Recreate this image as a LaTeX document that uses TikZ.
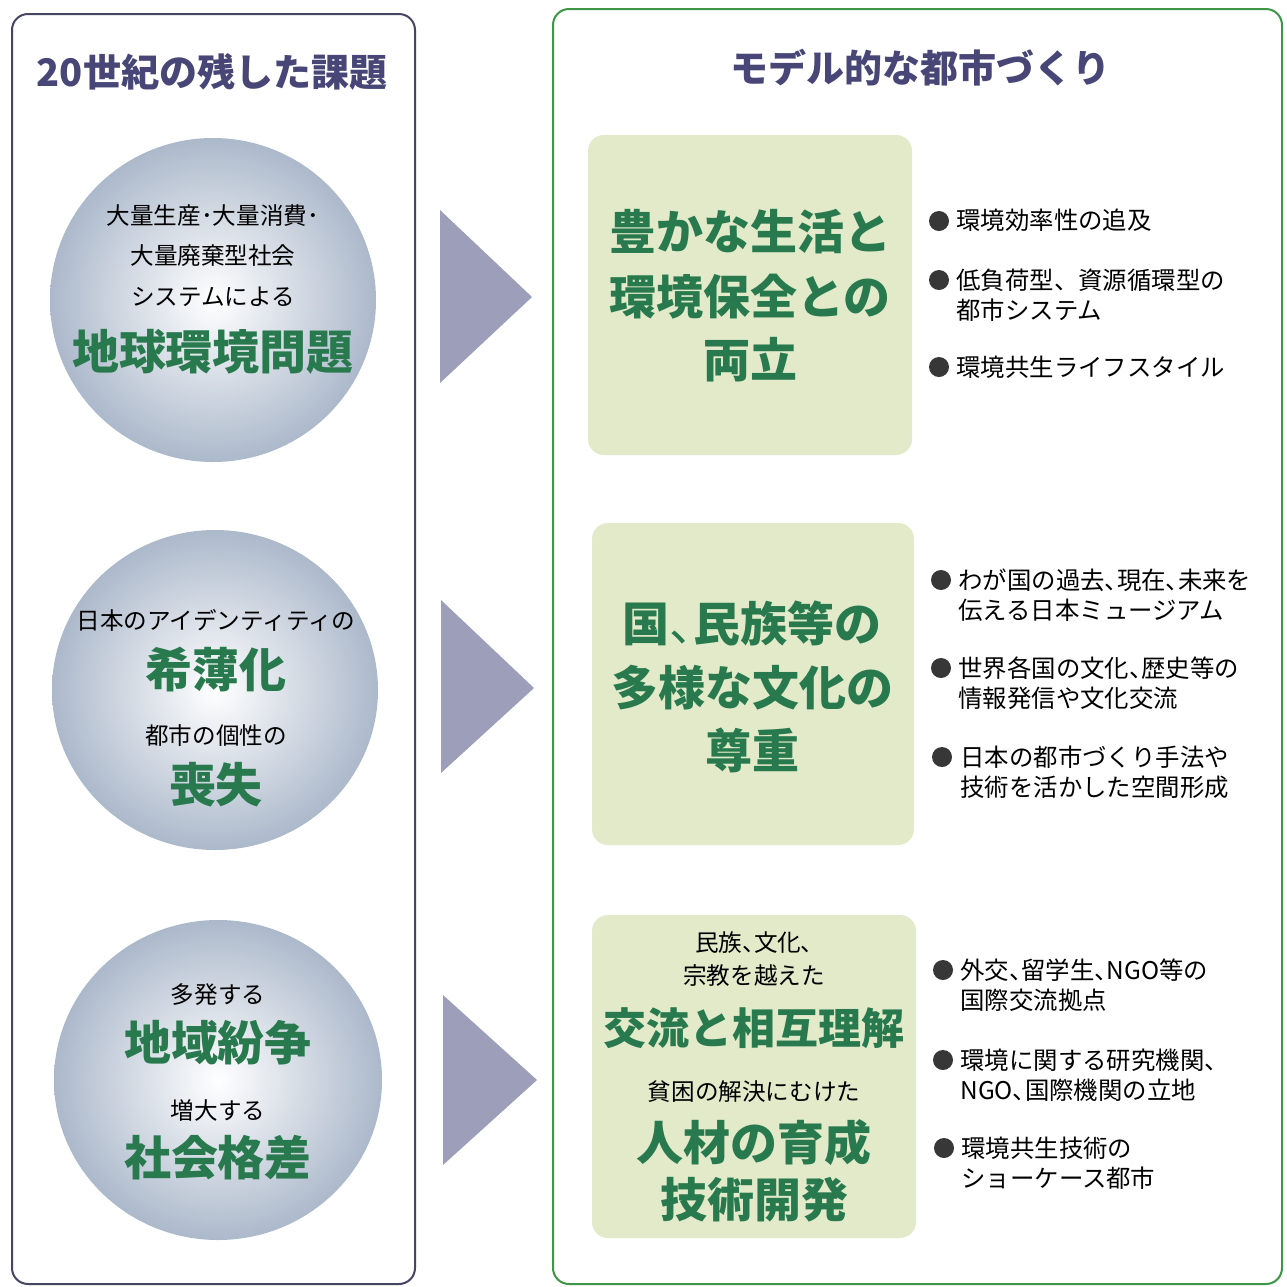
\documentclass[tikz,border=0pt]{standalone}
\usepackage{fontspec}
\setmainfont{Noto Sans CJK JP}
\IfFontExistsTF{Noto Sans CJK JP Black}
  {\newfontfamily\heavy{Noto Sans CJK JP Black}}
  {\newfontfamily\heavy{Noto Sans CJK JP}[UprightFont=*, BoldFont=*]\let\oldheavy\heavy\def\heavy{\oldheavy\bfseries}}
\newfontfamily\jpalt{Noto Sans CJK JP}[RawFeature=+palt]
\definecolor{titlec}{RGB}{72,70,118}
\definecolor{greenc}{RGB}{40,122,78}
\definecolor{leftb}{RGB}{70,70,100}
\definecolor{rightb}{RGB}{62,150,70}
\definecolor{boxf}{RGB}{226,234,202}
\definecolor{arrf}{RGB}{156,158,186}
\definecolor{ballo}{RGB}{172,185,203}
\definecolor{bulc}{RGB}{55,55,55}
\begin{document}
\begin{tikzpicture}[x=0.5pt,y=-0.5pt,
  ttl/.style={font=\fontsize{19}{19}\selectfont\bfseries, text=titlec, inner sep=0pt},
  sm/.style={font=\fontsize{11.8}{12}\selectfont, text=black, inner sep=0pt},
  big/.style={font=\fontsize{23.5}{24}\selectfont\heavy, text=greenc, inner sep=0pt},
  bul/.style={font=\fontsize{12.2}{12}\selectfont, text=black, anchor=west, inner sep=0pt},
  dot/.style={circle, fill=bulc, minimum size=10pt, inner sep=0pt},
  panel/.style={rounded corners=8pt, line width=1pt},
  gbox/.style={fill=boxf, rounded corners=8pt},
  tri/.style={fill=arrf},
  ball/.style={inner color=white, outer color=ballo}
]
\useasboundingbox (0,0) rectangle (1287,1287);
\fill[white] (0,0) rectangle (1287,1287);

% panels
\draw[panel, draw=leftb] (12,14) rectangle (415,1284);
\draw[panel, draw=rightb] (553,9) rectangle (1282,1284);

\node[ttl] (lt) at (212,72) {20世紀の残した課題};
\node[ttl] (rt) at (920,68) {モデル的な都市づくり};

% balls
\shade[ball] (213,300) circle[x radius=163, y radius=162];
\shade[ball] (215,690) circle[x radius=163, y radius=160];
\shade[ball] (218,1080) circle[x radius=164, y radius=160];

\node[sm] (c1a) at (213,216) {大量生産･大量消費･};
\node[sm] (c1b) at (213,256) {大量廃棄型社会};
\node[sm] (c1c) at (213,297) {システムによる};
\node[big] (c1d) at (213,352) {地球環境問題};

\node[sm] (c2a) at (216,620) {日本のアイデンティティの};
\node[big] (c2b) at (216,670) {希薄化};
\node[sm] (c2c) at (216,735) {都市の個性の};
\node[big] (c2d) at (216,785) {喪失};

\node[sm] (c3a) at (218,995) {多発する};
\node[big] (c3b) at (218,1043) {地域紛争};
\node[sm] (c3c) at (218,1110) {増大する};
\node[big] (c3d) at (218,1158) {社会格差};

% arrows
\fill[tri] (440,210) -- (532,297) -- (440,383) -- cycle;
\fill[tri] (441,600) -- (534,688) -- (441,773) -- cycle;
\fill[tri] (443,995) -- (537,1080) -- (443,1165) -- cycle;

% green boxes
\fill[gbox] (588,135) rectangle (912,455);
\fill[gbox] (592,523) rectangle (914,845);
\fill[gbox] (592,915) rectangle (916,1238);

\node[big] (g1a) at (750,232) {豊かな生活と};
\node[big] (g1b) at (750,297) {環境保全との};
\node[big] (g1c) at (750,360) {両立};

\node[big] (g2a) at (752,623) {国{\jpalt 、}民族等の};
\node[big] (g2b) at (752,688) {多様な文化の};
\node[big] (g2c) at (752,750) {尊重};

\node[sm] (g3a) at (754,943) {民族{\jpalt 、}文化{\jpalt 、}};
\node[sm] (g3b) at (754,976) {宗教を越えた};
\node[big, font=\fontsize{21.5}{22}\selectfont\heavy] (g3c) at (754,1028) {交流と相互理解};
\node[sm] (g3d) at (754,1092) {貧困の解決にむけた};
\node[big] (g3e) at (754,1143) {人材の育成};
\node[big] (g3f) at (754,1200) {技術開発};

% bullets
\node[dot] (d1) at (939,221) {};
\node[bul] (b1) at (956,220) {環境効率性の追及};
\node[dot] (d2) at (939,280) {};
\node[bul] (b2a) at (956,280) {低負荷型、資源循環型の};
\node[bul] (b2b) at (956,310) {都市システム};
\node[dot] (d3) at (939,367) {};
\node[bul] (b3) at (956,367) {環境共生ライフスタイル};

\node[dot] (d4) at (941,580) {};
\node[bul] (b4a) at (958,580) {わが国の過去{\jpalt 、}現在{\jpalt 、}未来を};
\node[bul] (b4b) at (958,610) {伝える日本ミュージアム};
\node[dot] (d5) at (941,668) {};
\node[bul] (b5a) at (958,668) {世界各国の文化{\jpalt 、}歴史等の};
\node[bul] (b5b) at (958,698) {情報発信や文化交流};
\node[dot] (d6) at (942,757) {};
\node[bul] (b6a) at (960,757) {日本の都市づくり手法や};
\node[bul] (b6b) at (960,787) {技術を活かした空間形成};

\node[dot] (d7) at (943,970) {};
\node[bul] (b7a) at (960,970) {外交{\jpalt 、}留学生{\jpalt 、}NGO等の};
\node[bul] (b7b) at (960,1000) {国際交流拠点};
\node[dot] (d8) at (943,1060) {};
\node[bul] (b8a) at (960,1060) {環境に関する研究機関、};
\node[bul] (b8b) at (960,1090) {NGO{\jpalt 、}国際機関の立地};
\node[dot] (d9) at (944,1148) {};
\node[bul] (b9a) at (961,1148) {環境共生技術の};
\node[bul] (b9b) at (961,1178) {ショーケース都市};
\end{tikzpicture}
\end{document}
